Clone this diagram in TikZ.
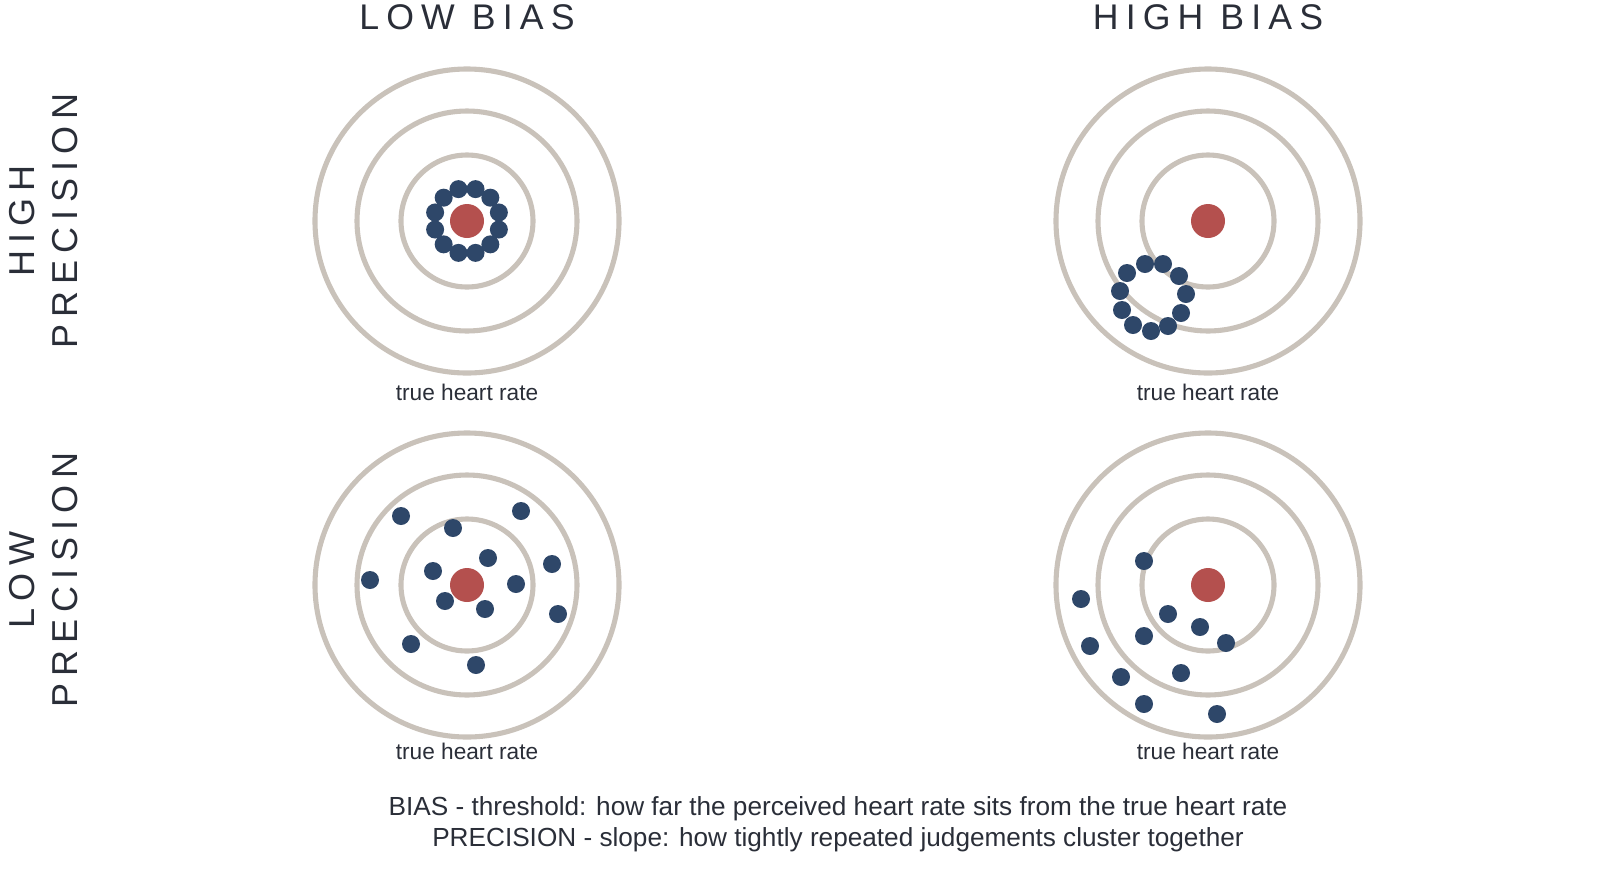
\documentclass[tikz,border=0pt]{standalone}
\usepackage{fontspec}
\setmainfont{Liberation Sans}
\definecolor{ring}{HTML}{C9C2BA}
\definecolor{tgt}{HTML}{B4504E}
\definecolor{dot}{HTML}{2E4769}
\definecolor{txt}{HTML}{2A2E38}
\begin{document}
\begin{tikzpicture}[x=0.02cm,y=-0.02cm,
  ringc/.style={draw=ring,line width=2.9pt},
  hit/.style={fill=dot},
  bull/.style={fill=tgt},
  head/.style={font=\fontsize{20.3}{24}\selectfont\addfontfeature{LetterSpace=20},text=txt},
  side/.style={font=\fontsize{20.5}{24}\selectfont\addfontfeature{LetterSpace=20},text=txt,rotate=90},
  lab/.style={font=\fontsize{12.9}{15}\selectfont,text=txt},
  note/.style={font=\fontsize{14.9}{18}\selectfont,text=txt}]
\useasboundingbox (0,0) rectangle (1600,873);
\foreach \cx/\cy/\n in {467/221/a,1208/221/b,467/585/c,1208/585/d}{
  \draw[ringc] (\cx,\cy) circle (66);
  \draw[ringc] (\cx,\cy) circle (110);
  \draw[ringc] (\cx,\cy) circle (152);
  \fill[bull] (\cx,\cy) circle (17);
}
\foreach \i in {0,...,11} \fill[hit] ({467+33*cos(30*\i+15)},{221+33*sin(30*\i+15)}) circle (9);
\foreach \p in {(1127,273),(1145,264),(1163,264),(1179,276),(1186,294),(1181,313),(1168,326),(1151,331),(1133,325),(1122,310),(1120,291)} \fill[hit] \p circle (9);
\foreach \p in {(401,516),(453,528),(521,511),(488,558),(433,571),(552,564),(370,580),(516,584),(445,601),(485,609),(558,614),(411,644),(476,665)} \fill[hit] \p circle (9);
\foreach \p in {(1144,561),(1081,599),(1168,614),(1200,627),(1226,643),(1144,636),(1090,646),(1181,673),(1121,677),(1144,704),(1217,714)} \fill[hit] \p circle (9);
\node[head] (h1) at (467,17) {LOW BIAS};
\node[head] (h2) at (1208,17) {HIGH BIAS};
\node[side] (s1) at (22,221) {HIGH};
\node[side] (s2) at (65,221) {PRECISION};
\node[side] (s3) at (22,580) {LOW};
\node[side] (s4) at (65,580) {PRECISION};
\node[lab] (l1) at (467,392) {true heart rate};
\node[lab] (l2) at (1208,392) {true heart rate};
\node[lab] (l3) at (467,751) {true heart rate};
\node[lab] (l4) at (1208,751) {true heart rate};
\node[note] (n1) at (838,809) {BIAS - threshold: how far the perceived heart rate sits from the true heart rate};
\node[note] (n2) at (838,840) {PRECISION - slope: how tightly repeated judgements cluster together};
\end{tikzpicture}
\end{document}
